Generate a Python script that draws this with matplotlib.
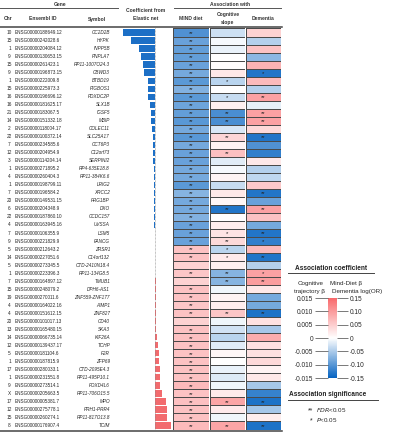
import matplotlib

matplotlib.use("Agg")

import matplotlib.pyplot as plt
import numpy as np
from matplotlib.cm import ScalarMappable
from matplotlib.colors import LinearSegmentedColormap, Normalize

plt.rcParams["font.family"] = ["Liberation Sans", "DejaVu Sans"]

chrom = ["10", "15", "1", "9", "15", "9", "1", "15", "16", "16",
         "21", "14", "2", "22", "7", "12", "3", "1", "4", "1",
         "7", "20", "6", "22", "4", "7", "9", "5", "14", "5",
         "1", "7", "15", "19", "4", "4", "20", "13", "14", "12",
         "5", "1", "17", "1", "9", "X", "17", "12", "15", "8"]
ensembl = ["ENSG00000188649.12", "ENSG00000242028.6", "ENSG00000204084.12", "ENSG00000130653.15",
           "ENSG00000261423.1", "ENSG00000196873.15", "ENSG00000222009.8", "ENSG00000225973.3",
           "ENSG00000196696.12", "ENSG00000181625.17", "ENSG00000183067.5", "ENSG00000151332.18",
           "ENSG00000118004.17", "ENSG00000100372.14", "ENSG00000234585.6", "ENSG00000204954.9",
           "ENSG00000114204.14", "ENSG00000271895.2", "ENSG00000260404.3", "ENSG00000198799.11",
           "ENSG00000196584.2", "ENSG00000149531.15", "ENSG00000204348.9", "ENSG00000187860.10",
           "ENSG00000163945.16", "ENSG00000106355.9", "ENSG00000221829.9", "ENSG00000212643.2",
           "ENSG00000227051.6", "ENSG00000273345.5", "ENSG00000223396.3", "ENSG00000164897.12",
           "ENSG00000248079.2", "ENSG00000270011.6", "ENSG00000164022.16", "ENSG00000151612.15",
           "ENSG00000101017.13", "ENSG00000165480.15", "ENSG00000066735.14", "ENSG00000139437.17",
           "ENSG00000181104.6", "ENSG00000187815.9", "ENSG00000280033.1", "ENSG00000231551.8",
           "ENSG00000273514.1", "ENSG00000205663.5", "ENSG00000005381.7", "ENSG00000275778.1",
           "ENSG00000260274.1", "ENSG00000176907.4"]
symbols = ["CC2D2B", "HYPK", "INPP5B", "PNPLA7", "RP11-1007O24.3", "CBWD3", "BTBD19", "PIGBOS1",
           "PDXDC2P", "SLX1B", "IGSF5", "MBIP", "COLEC11", "SLC25A17", "CCT6P3", "C12orf73",
           "SERPINI2", "RP4-635E18.8", "RP11-384K6.6", "LRIG2", "XRCC2", "FRG1BP", "DXO",
           "CCDC157", "UVSSA", "LSM5", "FANCG", "ZRSR1", "C14orf132", "CTD-2410N18.4",
           "RP11-134G8.5", "TMUB1", "DPH6-AS1", "ZNF559-ZNF177", "AIMP1", "ZNF827", "CD40",
           "SKA3", "KIF26A", "TCHP", "F2R", "ZFP69", "CTD-2095E4.3", "RP11-495P10.1",
           "FOXD4L6", "RP11-706O15.5", "MPO", "PRH1-PRR4", "RP11-817O13.8", "TCIM"]

# elastic net coefficients
coef = [-0.032, -0.0237, -0.0157, -0.0143, -0.0123, -0.0107, -0.0073, -0.0067, -0.0067, -0.005,
        -0.0037, -0.0037, -0.003, -0.0023, -0.0023, -0.002, -0.0017, -0.0015, -0.0014, -0.0013,
        -0.0012, -0.001, -0.0009, -0.0008, -0.0006, -0.0004, -0.0003, 0.0002, 0.0003, 0.0003,
        0.0004, 0.0005, 0.0005, 0.0005, 0.0007, 0.0008, 0.0008, 0.001, 0.0023, 0.0033,
        0.004, 0.0043, 0.005, 0.005, 0.005, 0.007, 0.0107, 0.0117, 0.0123, 0.016]

mind_beta = [-0.105, -0.090, -0.093, -0.093, -0.090, -0.083, -0.098, -0.075, -0.098, -0.087,
             -0.093, -0.099, -0.083, -0.099, -0.083, -0.090, -0.090, -0.083, -0.083, -0.098,
             -0.072, -0.083, -0.083, -0.075, -0.090, -0.090, -0.090, 0.060, 0.060, 0.045,
             0.057, 0.045, 0.060, 0.060, 0.057, 0.060, 0.045, 0.060, 0.063, 0.060,
             0.060, 0.060, 0.060, 0.060, 0.068, 0.060, 0.063, 0.060, 0.060, 0.068]
mind_sig = ["**"] * 29 + ["", "**", ""] + ["**"] * 4 + [""] + ["**"] * 13

cog_beta = [-0.0030, -0.0005, -0.0012, 0.0, 0.0003, 0.0023, -0.0042, 0.0, -0.0033, 0.0015,
            -0.0108, -0.0108, -0.0023, 0.0042, 0.0012, 0.0063, -0.0018, -0.0005, 0.0011, -0.0033,
            0.0023, 0.0009, -0.0132, 0.0, 0.0018, 0.0027, 0.0038, -0.0042, 0.0021, 0.0015,
            -0.0072, -0.0072, -0.0009, 0.0012, 0.0018, 0.0057, -0.0009, -0.0027, -0.0042, -0.0018,
            0.0008, 0.0, -0.0012, -0.0021, -0.0009, 0.0021, 0.0090, 0.0021, -0.0009, 0.0090]
cog_sig = ["", "", "", "", "", "", "*", "", "*", "",
           "**", "**", "", "**", "", "**", "", "", "", "",
           "", "", "**", "", "", "*", "**", "*", "*", "",
           "**", "**", "", "", "", "**", "", "", "", "",
           "", "", "", "", "", "", "**", "", "", "**"]

dem_logor = [0.045, -0.045, 0.060, -0.068, 0.075, -0.132, 0.068, -0.045, 0.093, -0.015,
             0.093, 0.093, 0.038, -0.132, -0.105, -0.123, 0.023, -0.045, -0.038, 0.053,
             -0.132, -0.090, 0.093, 0.060, -0.083, -0.132, -0.123, 0.068, -0.132, -0.045,
             0.093, 0.098, 0.023, -0.083, -0.083, -0.135, 0.030, -0.053, 0.083, 0.030,
             0.030, 0.038, 0.012, 0.023, -0.053, -0.120, -0.135, -0.053, 0.018, -0.135]
dem_sig = ["", "", "", "", "", "*", "", "", "**", "",
           "**", "**", "", "**", "", "", "", "", "", "",
           "**", "", "**", "", "", "**", "*", "", "**", "",
           "*", "**", "", "", "", "**", "", "", "", "",
           "", "", "", "", "", "", "**", "", "", "**"]

W, H = 396, 440
TOP, BOTTOM = 28.5, 429.5
n = len(symbols)
row_h = (BOTTOM - TOP) / n
TXT = "#262626"
BLUE_BAR = "#1c6fc6"
RED_BAR = "#f26b6e"
cmap = LinearSegmentedColormap.from_list("assoc", ["#0563c1", "#ffffff", "#f8696b"])

fig = plt.figure(figsize=(W / 100, H / 100), dpi=100)


def px_axes(x0, y0, x1, y1):
    return fig.add_axes([x0 / W, 1 - y1 / H, (x1 - x0) / W, (y1 - y0) / H])


# overlay in pixel coordinates for the table text and rules
lay = px_axes(0, 0, W, H)
lay.set_xlim(0, W)
lay.set_ylim(H, 0)
lay.axis("off")

row_y = TOP + (np.arange(n) + 0.5) * row_h
for y, c, e, s in zip(row_y, chrom, ensembl, symbols):
    lay.text(9.5, y, c, ha="center", va="center", fontsize=3.4, color=TXT)
    lay.text(15, y, e, ha="left", va="center", fontsize=3.35, color=TXT)
    lay.text(110, y, s, ha="right", va="center", fontsize=3.35, color=TXT, style="italic")

hdr = dict(ha="center", va="center", fontsize=3.6, color="#333333", fontweight="bold")
lay.text(60, 4.5, "Gene", **hdr)
lay.text(230, 4.5, "Association with", **hdr)
lay.text(8, 19, "Chr", **hdr)
lay.text(43, 19, "Ensembl ID", **hdr)
lay.text(97, 19, "Symbol", **hdr)
lay.text(146, 11, "Coefficient from", **hdr)
lay.text(146, 19, "Elastic net", **hdr)
lay.text(191, 19, "MIND diet", **hdr)
lay.text(228, 14.5, "Cognitive", **hdr)
lay.text(228, 22.5, "slope", **hdr)
lay.text(263, 19, "Dementia", **hdr)
lay.plot([0, 118], [8.5, 8.5], color="#555555", lw=0.7)
lay.plot([174, 281], [8.5, 8.5], color="#555555", lw=0.7)
lay.plot([0, 282], [27, 27], color="#444444", lw=1.1)
lay.plot([0, 282], [431, 431], color="#444444", lw=1.1)

# elastic net coefficient bars
bx = px_axes(118, TOP, 184, BOTTOM)
ypos = np.arange(n)
bx.barh(ypos, coef, height=0.78, color=[BLUE_BAR if v < 0 else RED_BAR for v in coef])
bx.axvline(0, color="#888888", lw=0.5, ls=(0, (1, 1)))
bx.set_xlim(-0.037, 0.029)
bx.set_ylim(n - 0.5, -0.5)
bx.axis("off")

# association heatmap columns
columns = [
    (173, 209, mind_beta, mind_sig, 0.15),
    (210, 245, cog_beta, cog_sig, 0.015),
    (246, 281, dem_logor, dem_sig, 0.15),
]
for x0, x1, vals, sig, lim in columns:
    hx = px_axes(x0, TOP, x1, BOTTOM)
    hx.pcolormesh(np.array(vals)[:, None], cmap=cmap, norm=Normalize(-lim, lim),
                  edgecolors="#4a4a4a", linewidth=0.6)
    for i, s in enumerate(sig):
        if s:
            hx.text(0.5, i + 0.6, s, ha="center", va="center", fontsize=4.2, color="#222222")
    hx.set_xlim(0, 1)
    hx.set_ylim(n, 0)
    hx.axis("off")

# colour legend
lay.text(331, 268, "Association coefficient", ha="center", va="center",
         fontsize=4.7, fontweight="bold", color="#222222")
lay.plot([288, 374], [273, 273], color="#444444", lw=0.7)
lay.text(311, 284, "Cognitive", ha="center", va="center", fontsize=4.5, color=TXT)
lay.text(310, 292, "trajectory \u03b2", ha="center", va="center", fontsize=4.5, color=TXT)
lay.text(346, 284, "Mind-Diet \u03b2", ha="center", va="center", fontsize=4.5, color=TXT)
lay.text(357, 292, "Dementia log(OR)", ha="center", va="center", fontsize=4.5, color=TXT)

cax = px_axes(328, 298, 337, 378)
cb = fig.colorbar(ScalarMappable(norm=Normalize(-0.015, 0.015), cmap=cmap), cax=cax)
cb.outline.set_visible(False)
cb.set_ticks([0.015, 0.010, 0.005, 0, -0.005, -0.010, -0.015])
cb.set_ticklabels(["0.015", "0.010", "0.005", "0", "-0.005", "-0.010", "-0.015"])
cax.yaxis.set_ticks_position("left")
cax.yaxis.set_label_position("left")
cax.tick_params(axis="y", length=9.5, width=0.5, color="#444444", labelsize=4.7,
                labelcolor=TXT, pad=1)
rax = cax.twinx()
rax.patch.set_visible(False)
rax.set_ylim(-0.15, 0.15)
rax.set_yticks([0.15, 0.10, 0.05, 0, -0.05, -0.10, -0.15])
rax.set_yticklabels(["0.15", "0.10", "0.05", "0", "-0.05", "-0.10", "-0.15"])
rax.tick_params(axis="y", length=8, width=0.5, color="#444444", labelsize=4.7,
                labelcolor=TXT, pad=1)
for sp in rax.spines.values():
    sp.set_visible(False)

# significance legend
lay.text(289, 395, "Association significance", ha="left", va="center",
         fontsize=4.7, fontweight="bold", color="#222222")
lay.plot([288, 378], [400, 400], color="#444444", lw=0.7)
lay.text(313, 411, "**", ha="right", va="center", fontsize=5.0, color=TXT)
lay.text(316, 410, "$\\it{FDR}$<0.05", ha="left", va="center", fontsize=4.5, color=TXT)
lay.text(313, 421, "*", ha="right", va="center", fontsize=5.0, color=TXT)
lay.text(316, 420, "$\\it{P}$<0.05", ha="left", va="center", fontsize=4.5, color=TXT)

fig.savefig("out.png", dpi=100)
plt.close(fig)
